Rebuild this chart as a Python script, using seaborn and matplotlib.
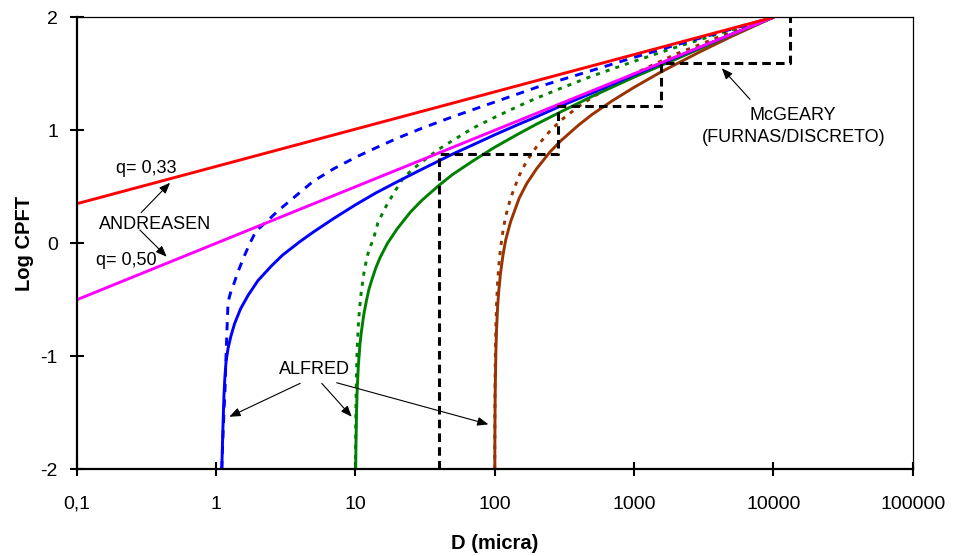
import matplotlib
matplotlib.use("Agg")
import matplotlib.pyplot as plt
from matplotlib.ticker import NullLocator
import seaborn as sns
import pandas as pd

sns.set_theme(style="white")
plt.rcParams['font.family'] = ['Liberation Sans', 'DejaVu Sans']

# ---- Andreasen (straight lines in log-log) ----
andreasen_d = [0.1, 10000]
andreasen_q033 = [0.35, 2.00]
andreasen_q050 = [-0.50, 2.00]

# ---- Alfred, Ds = 1 micron ----
alfred1_q050_d = [1.10, 1.12, 1.14, 1.16, 1.18, 1.22, 1.28, 1.36, 1.5, 1.7, 2, 2.5, 3,
                  4, 5, 7, 10, 14, 20, 30, 50, 70, 100, 150, 200, 300, 500, 1000,
                  2000, 5000, 10000]
alfred1_q050_y = [-2.00, -1.65, -1.35, -1.17, -1.05, -0.93, -0.82, -0.71, -0.58, -0.46,
                  -0.33, -0.20, -0.105, 0.015, 0.10, 0.22, 0.34, 0.445, 0.545, 0.655,
                  0.79, 0.872, 0.96, 1.055, 1.12, 1.217, 1.33, 1.49, 1.645, 1.85, 2.00]
alfred1_q033_d = [1.10, 1.13, 1.16, 1.18, 1.20, 1.22, 1.27, 1.35, 1.45, 1.6, 1.75, 1.94,
                  2.3, 2.77, 3.5, 4, 5, 7, 10, 14, 20, 30, 50, 100, 200, 500, 1000,
                  2000, 5000, 10000]
alfred1_q033_y = [-2.00, -1.60, -1.30, -1.00, -0.75, -0.52, -0.44, -0.35, -0.24, -0.11,
                  0.00, 0.11, 0.19, 0.285, 0.39, 0.45, 0.55, 0.66, 0.76, 0.844, 0.93,
                  1.018, 1.12, 1.25, 1.38, 1.53, 1.645, 1.755, 1.895, 2.00]

# ---- Alfred, Ds = 10 microns ----
alfred10_q050_d = [10.06, 10.1, 10.2, 10.3, 10.5, 10.8, 11, 11.5, 12, 12.5, 13, 14, 15,
                   17, 20, 25, 30, 40, 50, 70, 100, 150, 200, 300, 500, 1000, 2000,
                   5000, 10000]
alfred10_q050_y = [-2.00, -1.79, -1.49, -1.31, -1.09, -0.89, -0.80, -0.63, -0.51, -0.41,
                   -0.34, -0.22, -0.13, 0.00, 0.13, 0.28, 0.38, 0.515, 0.61, 0.73, 0.85,
                   0.972, 1.055, 1.165, 1.30, 1.47, 1.63, 1.845, 2.00]
alfred10_q033_d = [10.02, 10.05, 10.1, 10.2, 10.3, 10.5, 10.7, 11, 11.5, 12, 12.5, 13.5,
                   14.5, 16.3, 19, 22, 26, 31.6, 40, 50, 70, 100, 150, 200, 300, 500,
                   1000, 2000, 5000, 10000]
alfred10_q033_y = [-2.00, -1.72, -1.42, -1.125, -0.95, -0.73, -0.59, -0.44, -0.27, -0.15,
                   -0.06, 0.04, 0.18, 0.31, 0.45, 0.575, 0.66, 0.74, 0.835, 0.91, 1.02,
                   1.115, 1.217, 1.285, 1.373, 1.48, 1.61, 1.735, 1.89, 2.00]

# ---- Alfred, Ds = 100 microns ----
alfred100_q050_d = [100.18, 100.3, 100.5, 100.8, 101, 102, 103, 105, 107, 110, 115, 120,
                    130, 150, 170, 200, 250, 300, 400, 500, 700, 1000, 1500, 2000,
                    3000, 5000, 10000]
alfred100_q050_y = [-2.00, -1.78, -1.56, -1.35, -1.26, -0.96, -0.78, -0.56, -0.42, -0.27,
                    -0.095, 0.03, 0.19, 0.40, 0.53, 0.66, 0.81, 0.91, 1.046, 1.14, 1.262,
                    1.38, 1.504, 1.585, 1.697, 1.83, 2.00]
alfred100_q033_d = [100.1, 100.2, 100.5, 101, 102, 103, 105, 107, 110, 115, 120, 130, 150,
                    170, 200, 250, 300, 400, 500, 700, 1000, 2000, 5000, 10000]
alfred100_q033_y = [-2.00, -1.73, -1.335, -1.035, -0.735, -0.56, -0.34, -0.20, -0.05, 0.12,
                    0.24, 0.40, 0.60, 0.73, 0.855, 0.995, 1.09, 1.21, 1.29, 1.40, 1.50,
                    1.675, 1.87, 2.00]

# ---- McGeary (Furnas / discrete) step curve ----
mcgeary_d = [40, 40, 285, 285, 1560, 1560, 13200, 13200]
mcgeary_y = [-2.00, 0.79, 0.79, 1.215, 1.215, 1.595, 1.595, 2.00]

x_ticks = [0.1, 1, 10, 100, 1000, 10000, 100000]
x_tick_labels = ['0,1', '1', '10', '100', '1000', '10000', '100000']
y_ticks = [-2, -1, 0, 1, 2]
y_tick_labels = ['-2', '-1', '0', '1', '2']

RED = '#FF0000'
MAGENTA = '#FF00FF'
BLUE = '#0000FF'
GREEN = '#008000'
BROWN = '#993300'

fig = plt.figure(figsize=(9.56, 5.56), dpi=100)
ax = fig.add_axes([0.0802, 0.1559, 0.8745, 0.8130])
ax.set_xscale('log')


def curve(d, y, color, dash=None, lw=2.1):
    df = pd.DataFrame({'D': d, 'logCPFT': y})
    sns.lineplot(data=df, x='D', y='logCPFT', color=color, lw=lw, ax=ax,
                 sort=False, estimator=None, legend=False)
    line = ax.lines[-1]
    line.set_solid_joinstyle('round')
    if dash is not None:
        line.set_linestyle((0, dash))
        line.set_dash_capstyle('butt')
    return line


curve(alfred100_q050_d, alfred100_q050_y, BROWN)
curve(alfred100_q033_d, alfred100_q033_y, BROWN, dash=(1.4, 2.1))
curve(alfred10_q050_d, alfred10_q050_y, GREEN)
curve(alfred10_q033_d, alfred10_q033_y, GREEN, dash=(1.4, 2.1))
curve(alfred1_q050_d, alfred1_q050_y, BLUE)
curve(alfred1_q033_d, alfred1_q033_y, BLUE, dash=(2.8, 2.5))
curve(andreasen_d, andreasen_q050, MAGENTA)
curve(andreasen_d, andreasen_q033, RED)
curve(mcgeary_d, mcgeary_y, 'black', dash=(2.8, 1.7), lw=2.2)

ax.set_xlim(0.1, 100000)
ax.set_ylim(-2, 2)
ax.set_xticks(x_ticks)
ax.set_xticklabels(x_tick_labels)
ax.xaxis.set_minor_locator(NullLocator())
ax.set_yticks(y_ticks)
ax.set_yticklabels(y_tick_labels)
ax.tick_params(axis='both', which='major', direction='inout', length=10, width=1.5,
               color='black', labelcolor='black', labelsize=14,
               bottom=True, left=True, top=False, right=False)
ax.tick_params(axis='x', pad=14)
ax.tick_params(axis='y', pad=8.5)

for side in ('left', 'bottom'):
    ax.spines[side].set_linewidth(1.6)
    ax.spines[side].set_color('black')
for side in ('top', 'right'):
    ax.spines[side].set_linewidth(0.9)
    ax.spines[side].set_color('black')
    ax.spines[side].set_visible(True)

ax.set_xlabel('D (micra)', fontsize=14.5, fontweight='bold', color='black')
ax.set_ylabel('Log CPFT', fontsize=14.5, fontweight='bold', color='black')
ax.xaxis.set_label_coords(0.5, -0.142)
ax.yaxis.set_label_coords(-0.051, 0.5)

txt = dict(fontsize=13, color='black', ha='center', va='center')
arrow = dict(arrowstyle='-|>,head_length=0.55,head_width=0.22', color='black',
             lw=0.8, shrinkA=0, shrinkB=0, mutation_scale=12)

ax.text(0.315, 0.658, 'q= 0,33', **txt)
ax.text(0.368, 0.162, 'ANDREASEN', **txt)
ax.text(0.226, -0.148, 'q= 0,50', **txt)
ax.annotate('', xy=(0.468, 0.536), xytext=(0.29, 0.271), arrowprops=arrow)
ax.annotate('', xy=(0.443, -0.119), xytext=(0.284, 0.118), arrowprops=arrow)

ax.text(5.07, -1.121, 'ALFRED', **txt)
ax.annotate('', xy=(1.246, -1.535), xytext=(4.02, -1.239), arrowprops=arrow)
ax.annotate('', xy=(9.42, -1.535), xytext=(5.74, -1.239), arrowprops=arrow)
ax.annotate('', xy=(90.2, -1.602), xytext=(7.35, -1.234), arrowprops=arrow)

ax.text(13900, 1.034, 'McGEARY\n(FURNAS/DISCRETO)', linespacing=1.35, **txt)
ax.annotate('', xy=(4266, 1.549), xytext=(6800, 1.274), arrowprops=arrow)

fig.savefig('out.png', dpi=100, facecolor='white')
